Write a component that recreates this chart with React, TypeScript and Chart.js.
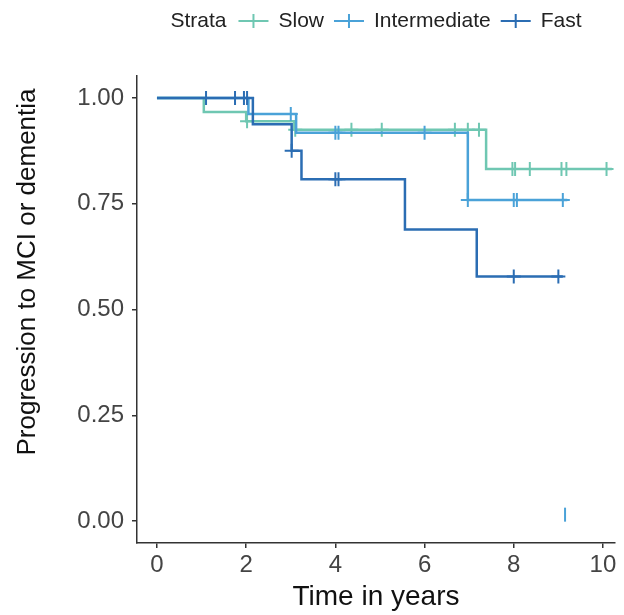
import React, { useEffect, useRef } from "react";
import { Chart, registerables } from "chart.js";

Chart.register(...registerables);

// ---------- data ----------
const seriesNames = ["Slow", "Intermediate", "Fast"];

// Slow stratum (Kaplan-Meier steps: time at which the curve takes the value)
const slowTimes = [0, 1.05, 2.0, 3.08, 7.38, 10.2];
const slowSurv = [1.0, 0.967, 0.945, 0.925, 0.832, 0.832];
const slowCensor = [2.02, 3.1, 4.36, 5.04, 6.68, 6.97, 7.22, 7.97, 8.03, 8.36, 9.07, 9.18, 10.08];

// Intermediate stratum
const interTimes = [0, 2.05, 3.12, 6.97, 9.2];
const interSurv = [1.0, 0.962, 0.918, 0.759, 0.759];
const interCensor = [3.0, 4.0, 4.07, 6.0, 6.97, 8.0, 8.07, 9.1];

// Fast stratum
const fastTimes = [0, 2.15, 3.02, 3.24, 5.56, 7.17, 9.1];
const fastSurv = [1.0, 0.938, 0.875, 0.808, 0.689, 0.578, 0.578];
const fastCensor = [1.1, 1.75, 1.95, 2.02, 3.02, 4.0, 4.07, 8.0, 9.0];

// stray mark near the bottom of the panel
const strayTimes = [9.15];
const strayValues = [0.015];

const xTicks = [0, 2, 4, 6, 8, 10];
const yTicks = [0, 0.25, 0.5, 0.75, 1.0];

const xTitle = "Time in years";
const yTitle = "Progression to MCI or dementia";
const legendTitle = "Strata";

// ---------- styles ----------
const FONT = '"Liberation Sans", Arial, Helvetica, sans-serif';
const colSlow = "#6fc7b2";
const colInter = "#4aa2d8";
const colFast = "#2b6db3";
const seriesColors = [colSlow, colInter, colFast];

function survAt(times: number[], surv: number[], t: number) {
  let v = surv[0];
  for (let i = 0; i < times.length; i++) {
    if (times[i] <= t + 1e-9) v = surv[i];
  }
  return v;
}

function curve(times: number[], surv: number[]) {
  return times.map((t, i) => ({ x: t, y: surv[i] }));
}

function censorPts(times: number[], surv: number[], cens: number[]) {
  return cens.map((t) => ({ x: t, y: survAt(times, surv, t) }));
}

const legendPlugin = {
  id: "strataLegend",
  afterDraw(chart: any) {
    const { ctx, chartArea } = chart;
    ctx.save();
    ctx.font = `21px ${FONT}`;
    ctx.textBaseline = "middle";
    ctx.textAlign = "left";
    const iconW = 30;
    const gapTitle = 12;
    const gapIcon = 10;
    const gapItem = 10;
    const wTitle = ctx.measureText(legendTitle).width;
    const wItems = seriesNames.map((n) => ctx.measureText(n).width);
    let total = wTitle + gapTitle;
    wItems.forEach((w, i) => {
      total += iconW + gapIcon + w + (i < wItems.length - 1 ? gapItem : 0);
    });
    let x = (chartArea.left + chartArea.right) / 2 - total / 2;
    const y = 21;
    ctx.fillStyle = "#222";
    ctx.fillText(legendTitle, x, y);
    x += wTitle + gapTitle;
    seriesNames.forEach((n, i) => {
      ctx.strokeStyle = seriesColors[i];
      ctx.lineWidth = 2;
      ctx.beginPath();
      ctx.moveTo(x, y);
      ctx.lineTo(x + iconW, y);
      ctx.moveTo(x + iconW / 2, y - 7);
      ctx.lineTo(x + iconW / 2, y + 7);
      ctx.stroke();
      x += iconW + gapIcon;
      ctx.fillStyle = "#222";
      ctx.fillText(n, x, y);
      x += wItems[i] + gapItem;
    });

    // y-axis title (placed as in the reference, above the panel centre)
    ctx.font = `26px ${FONT}`;
    ctx.fillStyle = "#111";
    ctx.textAlign = "center";
    ctx.textBaseline = "middle";
    ctx.translate(28, 272);
    ctx.rotate(-Math.PI / 2);
    ctx.fillText(yTitle, 0, 0);
    ctx.restore();
  },
};

export default function App() {
  const canvasRef = useRef<HTMLCanvasElement | null>(null);

  useEffect(() => {
    if (!canvasRef.current) return;
    const lineDs = (label: string, data: any[], color: string) => ({
      label,
      data,
      showLine: true,
      stepped: true,
      borderColor: color,
      backgroundColor: color,
      borderWidth: 2.5,
      pointRadius: 0,
      fill: false,
    });
    const censDs = (label: string, data: any[], color: string) => ({
      label,
      data,
      showLine: false,
      pointStyle: "cross",
      pointRadius: 7,
      borderColor: color,
      backgroundColor: color,
      borderWidth: 2,
    });

    const chart = new Chart(canvasRef.current, {
      type: "scatter",
      data: {
        datasets: [
          censDs("Fast censored", censorPts(fastTimes, fastSurv, fastCensor), colFast),
          lineDs("Fast", curve(fastTimes, fastSurv), colFast),
          censDs("Intermediate censored", censorPts(interTimes, interSurv, interCensor), colInter),
          lineDs("Intermediate", curve(interTimes, interSurv), colInter),
          censDs("Slow censored", censorPts(slowTimes, slowSurv, slowCensor), colSlow),
          lineDs("Slow", curve(slowTimes, slowSurv), colSlow),
          {
            label: "mark",
            data: strayTimes.map((t, i) => ({ x: t, y: strayValues[i] })),
            showLine: false,
            pointStyle: "line",
            rotation: 90,
            pointRadius: 7,
            borderColor: colInter,
            borderWidth: 2,
          } as any,
        ],
      },
      options: {
        responsive: false,
        animation: false,
        layout: { padding: { top: 76, right: 0, left: 0, bottom: 0 } },
        plugins: {
          legend: { display: false },
          tooltip: { enabled: false },
        },
        scales: {
          x: {
            type: "linear",
            min: -0.448,
            max: 10.27,
            afterBuildTicks: (s: any) => {
              s.ticks = xTicks.map((v) => ({ value: v }));
            },
            afterFit: (s: any) => {
              s.height = 72;
              s.paddingLeft = 0;
              s.paddingRight = 0;
            },
            ticks: {
              font: { family: FONT, size: 24 },
              color: "#444",
              padding: 3,
              callback: (v: any) => String(v),
            },
            grid: {
              display: true,
              drawOnChartArea: false,
              drawTicks: true,
              tickLength: 5,
              color: "#333",
              lineWidth: 1.5,
            },
            border: { display: true, color: "#333", width: 1.5 },
            title: {
              display: true,
              text: xTitle,
              font: { family: FONT, size: 28 },
              color: "#111",
              padding: { top: 0, bottom: 1 },
            },
          },
          y: {
            type: "linear",
            min: -0.052,
            max: 1.052,
            afterBuildTicks: (s: any) => {
              s.ticks = yTicks.map((v) => ({ value: v }));
            },
            afterFit: (s: any) => {
              s.width = 137;
            },
            ticks: {
              font: { family: FONT, size: 24 },
              color: "#444",
              padding: 8,
              callback: (v: any) => Number(v).toFixed(2),
            },
            grid: {
              display: true,
              drawOnChartArea: false,
              drawTicks: true,
              tickLength: 5,
              color: "#333",
              lineWidth: 1.5,
            },
            border: { display: true, color: "#333", width: 1.5 },
            title: { display: false },
          },
        },
      },
      plugins: [legendPlugin],
    } as any);

    return () => chart.destroy();
  }, []);

  return (
    <div style={{ position: "fixed", left: 0, top: 0, width: 624, height: 615, background: "#fff" }}>
      <canvas ref={canvasRef} width={624} height={615} style={{ display: "block" }} />
    </div>
  );
}
